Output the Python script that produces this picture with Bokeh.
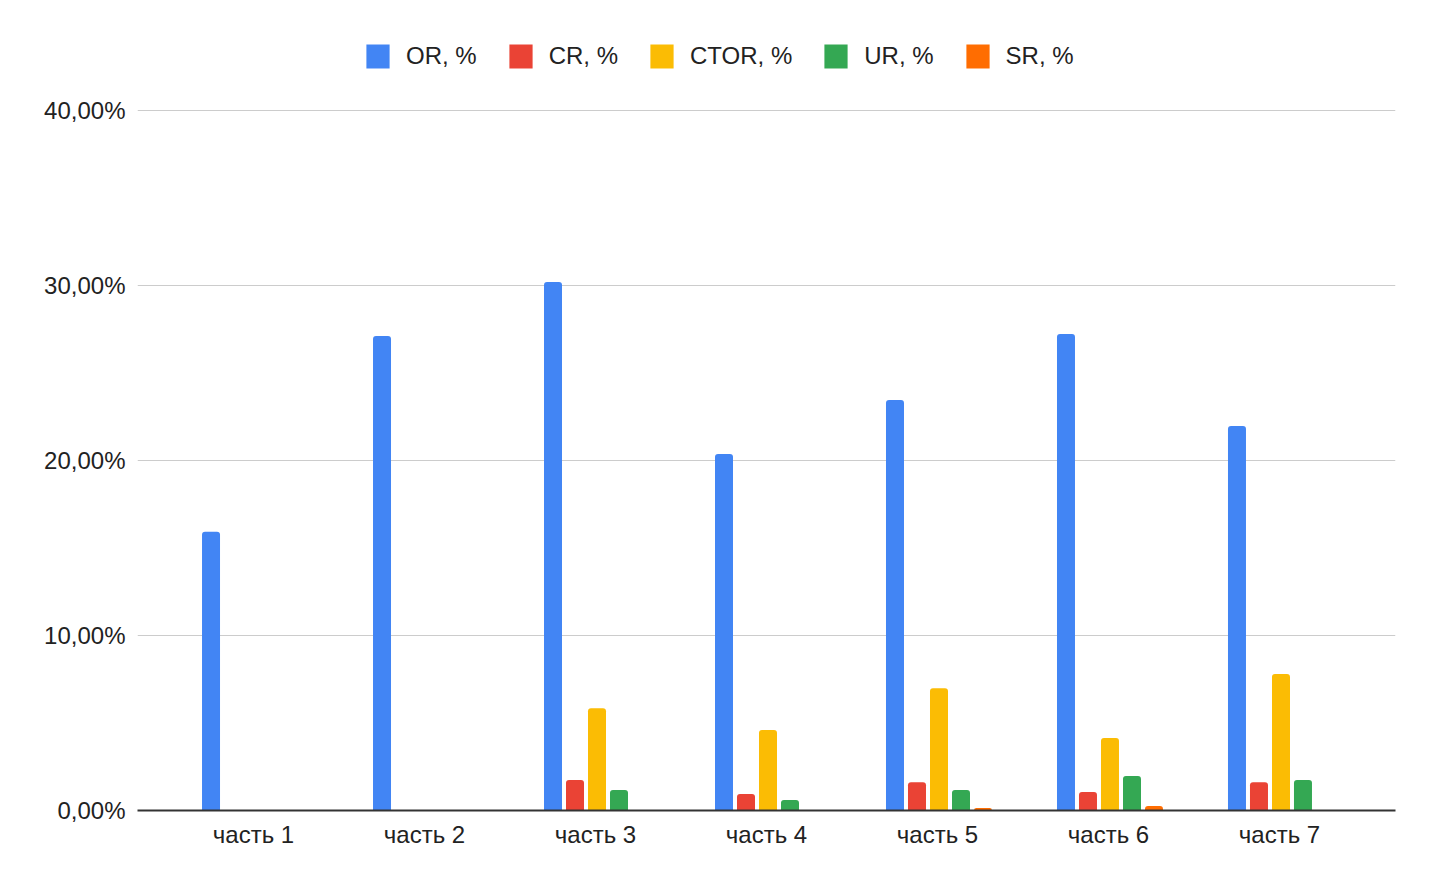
from bokeh.plotting import figure
from bokeh.models import (FactorRange, Range1d, ColumnDataSource, FixedTicker,
                          CustomJSTickFormatter, Legend, LegendItem)
from bokeh.transform import dodge
from bokeh.embed import file_html
from bokeh.resources import INLINE

categories = ["часть 1", "часть 2", "часть 3", "часть 4", "часть 5", "часть 6", "часть 7"]
OR = [15.93, 27.11, 30.20, 20.37, 23.46, 27.23, 21.97]
CR = [0, 0, 1.74, 0.94, 1.61, 1.06, 1.61]
CTOR = [0, 0, 5.84, 4.60, 6.98, 4.14, 7.80]
UR = [0, 0, 1.17, 0.60, 1.17, 1.97, 1.74]
SR = [0, 0, 0, 0, 0.14, 0.26, 0.03]
series_names = ["OR, %", "CR, %", "CTOR, %", "UR, %", "SR, %"]
y_ticks = [0, 10, 20, 30, 40]

colors = ["#4285F4", "#EA4335", "#FBBC04", "#34A853", "#FF6D01"]
keys = ["OR", "CR", "CTOR", "UR", "SR"]

src = ColumnDataSource(dict(cat=categories, OR=OR, CR=CR, CTOR=CTOR, UR=UR, SR=SR))

FONT = "Liberation Sans"

# frame spans the whole height above the axis; 40% sits 110px below the top
frame_h = 810
y_top = 40 * frame_h / 700

p = figure(width=1424, height=876, output_backend="svg", toolbar_location=None,
           x_range=FactorRange(factors=categories, range_padding=0.1785,
                               range_padding_units="absolute"),
           y_range=Range1d(0, y_top),
           min_border_left=137, min_border_right=29, min_border_top=0,
           min_border_bottom=66)
p.outline_line_color = None

step = 22 / 171
bw = 18 / 171
shift = 1.5 / 171
items = []
for i, (k, c, name) in enumerate(zip(keys, colors, series_names)):
    r = p.vbar(x=dodge("cat", (i - 2) * step + shift, range=p.x_range), top=k, width=bw,
               source=src, color=c, line_color=None, border_radius=(3, 3, 0, 0))
    items.append(LegendItem(label=name, renderers=[r]))

legend = Legend(items=items, orientation="horizontal", location=(226, 739),
                label_text_font=FONT, label_text_font_size="24px",
                label_text_color="#222222", glyph_width=29, glyph_height=30,
                label_standoff=14, spacing=29, border_line_color=None,
                background_fill_alpha=0, padding=0, margin=0)
p.add_layout(legend, "center")

p.yaxis.ticker = FixedTicker(ticks=y_ticks)
p.yaxis.formatter = CustomJSTickFormatter(code="return tick.toFixed(2).replace('.', ',') + '%';")
p.yaxis.axis_line_color = None
p.yaxis.major_tick_line_color = None
p.yaxis.minor_tick_line_color = None
p.yaxis.major_label_text_font = FONT
p.yaxis.major_label_text_font_size = "24px"
p.yaxis.major_label_text_color = "#222222"
p.yaxis.major_label_standoff = 6

p.xaxis.axis_line_color = "#333333"
p.xaxis.axis_line_width = 2
p.xaxis.major_tick_line_color = None
p.xaxis.minor_tick_line_color = None
p.xaxis.major_label_text_font = FONT
p.xaxis.major_label_text_font_size = "24px"
p.xaxis.major_label_text_color = "#222222"
p.xaxis.major_label_standoff = 4

p.xgrid.grid_line_color = None
p.ygrid.grid_line_color = "#cccccc"
p.ygrid.grid_line_width = 1

open("out.html", "w").write(file_html(p, INLINE))
